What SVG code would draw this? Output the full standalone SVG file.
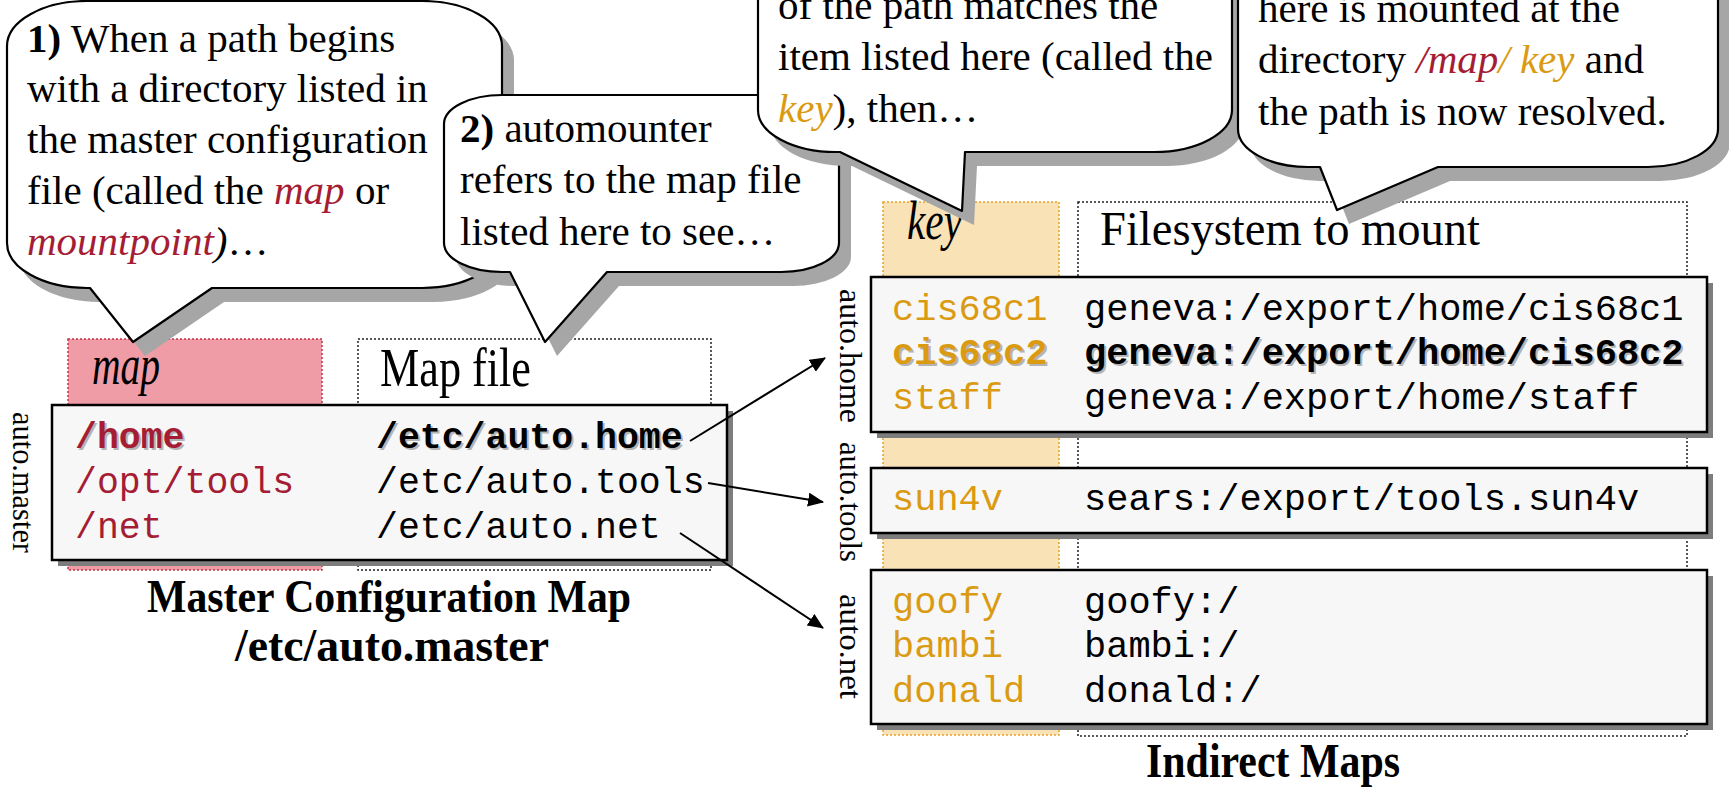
<svg xmlns="http://www.w3.org/2000/svg" width="1729" height="793" viewBox="0 0 1729 793">
  <defs>
    <style>
      .serif { font-family: 'Liberation Serif', 'Times New Roman', serif; fill: #000; }
      .mono { font-family: 'Liberation Mono', 'Courier New', monospace; font-size: 37px; }
      .callout-text { font-size: 41px; }
      .bubble { fill: #fff; stroke: #000; stroke-width: 2.2; stroke-linejoin: round; }
      .bubble-shadow { fill: #a6a6a6; }
      .table { fill: #f7f7f7; stroke: #000; stroke-width: 2.5; }
      .table-shadow { fill: #7d7d7d; }
      .head-map { fill: #f09ca6; stroke: #c2334a; stroke-width: 1.5; stroke-dasharray: 2 2; }
      .head-key { fill: #f8e2b6; stroke: #e3a427; stroke-width: 1.5; stroke-dasharray: 2 2; }
      .head-plain { fill: #fff; stroke: #222; stroke-width: 1.5; stroke-dasharray: 2 2; }
      .red { fill: #a51d34; }
      .gold { fill: #da9b12; }
      .it { font-style: italic; }
      .b { font-weight: bold; }
      .tshadow { fill: #b4b4b4; }
      .title { font-weight: bold; }
      .side { font-size: 32px; }
      .conn { stroke: #000; stroke-width: 2; fill: none; marker-end: url(#arrow); }
    </style>
    <marker id="arrow" viewBox="0 0 16 14" refX="15" refY="7" markerWidth="16" markerHeight="14" markerUnits="userSpaceOnUse" orient="auto">
      <path d="M0,0 L16,7 L0,14 Z" fill="#000"/>
    </marker>
  </defs>

  <rect width="1729" height="793" fill="#fff"/>

  <!-- Master configuration map -->
  <g id="master-map">
    <rect class="head-map" x="68" y="339" width="254" height="231"/>
    <text class="serif it" font-size="56" x="92" y="384" textLength="68" lengthAdjust="spacingAndGlyphs">map</text>
    <rect class="head-plain" x="358" y="339" width="353" height="231"/>
    <text class="serif" font-size="54" x="380" y="386" textLength="151" lengthAdjust="spacingAndGlyphs">Map file</text>
    <rect class="table-shadow" x="58" y="411" width="675" height="155"/>
    <rect class="table" x="52" y="405" width="675" height="155"/>
    <g class="mono" style="font-size:36.5px">
      <text class="tshadow b" x="77" y="450">/home</text>
      <text class="red b" x="75" y="448">/home</text>
      <text class="red" x="75" y="493">/opt/tools</text>
      <text class="red" x="75" y="538">/net</text>
      <text class="tshadow b" x="378" y="450">/etc/auto.home</text>
      <text class="b" x="376" y="448">/etc/auto.home</text>
      <text x="376" y="493">/etc/auto.tools</text>
      <text x="376" y="538">/etc/auto.net</text>
    </g>
    <text class="serif side" transform="translate(13,412) rotate(90)" textLength="141" lengthAdjust="spacingAndGlyphs">auto.master</text>
    <text class="serif title" font-size="47" x="147" y="612" textLength="484" lengthAdjust="spacingAndGlyphs">Master Configuration Map</text>
    <text class="serif title" font-size="47" x="235" y="661" textLength="314" lengthAdjust="spacingAndGlyphs">/etc/auto.master</text>
  </g>

  <!-- Indirect maps -->
  <g id="indirect-maps">
    <rect class="head-key" x="883" y="202" width="176" height="533"/>
    <text class="serif it" font-size="54" x="907" y="239" textLength="55" lengthAdjust="spacingAndGlyphs">key</text>
    <rect class="head-plain" x="1078" y="202" width="609" height="534"/>
    <text class="serif" font-size="49" x="1100" y="245" textLength="380" lengthAdjust="spacingAndGlyphs">Filesystem to mount</text>
    <text class="serif title" font-size="48" x="1146" y="777" textLength="254" lengthAdjust="spacingAndGlyphs">Indirect Maps</text>
  </g>

  <g id="auto-home">
    <rect class="table-shadow" x="877" y="283" width="836" height="155"/>
    <rect class="table" x="871" y="277" width="836" height="155"/>
    <g class="mono">
      <text class="gold" x="892" y="320">cis68c1</text>
      <text x="1084" y="320">geneva:/export/home/cis68c1</text>
      <text class="tshadow b" x="894" y="366">cis68c2</text>
      <text class="gold b" x="892" y="364">cis68c2</text>
      <text class="tshadow b" x="1086" y="366">geneva:/export/home/cis68c2</text>
      <text class="b" x="1084" y="364">geneva:/export/home/cis68c2</text>
      <text class="gold" x="892" y="409">staff</text>
      <text x="1084" y="409">geneva:/export/home/staff</text>
    </g>
    <text class="serif side" transform="translate(840,289) rotate(90)" textLength="134" lengthAdjust="spacingAndGlyphs">auto.home</text>
  </g>

  <g id="auto-tools">
    <rect class="table-shadow" x="877" y="474" width="836" height="65"/>
    <rect class="table" x="871" y="468" width="836" height="65"/>
    <g class="mono">
      <text class="gold" x="892" y="510">sun4v</text>
      <text x="1084" y="510">sears:/export/tools.sun4v</text>
    </g>
    <text class="serif side" transform="translate(840,442) rotate(90)" textLength="120" lengthAdjust="spacingAndGlyphs">auto.tools</text>
  </g>

  <g id="auto-net">
    <rect class="table-shadow" x="877" y="576" width="836" height="154"/>
    <rect class="table" x="871" y="570" width="836" height="154"/>
    <g class="mono">
      <text class="gold" x="892" y="613">goofy</text>
      <text x="1084" y="613">goofy:/</text>
      <text class="gold" x="892" y="657">bambi</text>
      <text x="1084" y="657">bambi:/</text>
      <text class="gold" x="892" y="702">donald</text>
      <text x="1084" y="702">donald:/</text>
    </g>
    <text class="serif side" transform="translate(840,594) rotate(90)" textLength="105" lengthAdjust="spacingAndGlyphs">auto.net</text>
  </g>

  <!-- Connectors from the master map entries to their map files -->
  <g id="connectors">
    <line class="conn" x1="690" y1="441" x2="825" y2="358"/>
    <line class="conn" x1="708" y1="483" x2="823" y2="502"/>
    <line class="conn" x1="680" y1="533" x2="823" y2="628"/>
  </g>

  <!-- Speech bubbles -->
  <g id="callout-1">
    <path class="bubble-shadow" transform="translate(12,14)" d="M87,1 H422 A80 45 0 0 1 502,46 V243 A80 45 0 0 1 422,288 H212 L133,342 L90,288 H87 A80 45 0 0 1 7,243 V46 A80 45 0 0 1 87,1 Z"/>
    <path class="bubble" d="M87,1 H422 A80 45 0 0 1 502,46 V243 A80 45 0 0 1 422,288 H212 L133,342 L90,288 H87 A80 45 0 0 1 7,243 V46 A80 45 0 0 1 87,1 Z"/>
    <g class="serif callout-text">
      <text x="27" y="52"><tspan class="b">1)</tspan> When a path begins</text>
      <text x="27" y="102">with a directory listed in</text>
      <text x="27" y="153">the master configuration</text>
      <text x="27" y="204">file (called the <tspan class="it red">map</tspan> or</text>
      <text x="27" y="255"><tspan class="it red">mountpoint</tspan><tspan class="it">)</tspan>…</text>
    </g>
  </g>

  <g id="callout-2">
    <path class="bubble-shadow" transform="translate(12,14)" d="M502,95 H781 A58 29 0 0 1 839,124 V243 A58 29 0 0 1 781,272 H607 L545,342 L510,272 H502 A58 29 0 0 1 444,243 V124 A58 29 0 0 1 502,95 Z"/>
    <path class="bubble" d="M502,95 H781 A58 29 0 0 1 839,124 V243 A58 29 0 0 1 781,272 H607 L545,342 L510,272 H502 A58 29 0 0 1 444,243 V124 A58 29 0 0 1 502,95 Z"/>
    <g class="serif callout-text">
      <text x="460" y="142"><tspan class="b">2)</tspan> automounter</text>
      <text x="460" y="193">refers to the map file</text>
      <text x="460" y="245">listed here to see…</text>
    </g>
  </g>

  <g id="callout-3">
    <path class="bubble-shadow" transform="translate(12,14)" d="M836,-90 H1154 A78 42 0 0 1 1232,-48 V110 A78 42 0 0 1 1154,152 H965 L962,211 L840,152 H836 A78 42 0 0 1 758,110 V-48 A78 42 0 0 1 836,-90 Z"/>
    <path class="bubble" d="M836,-90 H1154 A78 42 0 0 1 1232,-48 V110 A78 42 0 0 1 1154,152 H965 L962,211 L840,152 H836 A78 42 0 0 1 758,110 V-48 A78 42 0 0 1 836,-90 Z"/>
    <g class="serif callout-text">
      <text x="778" y="19">of the path matches the</text>
      <text x="778" y="70">item listed here (called the</text>
      <text x="778" y="122"><tspan class="it gold">key</tspan>), then…</text>
    </g>
  </g>

  <g id="callout-4">
    <path class="bubble-shadow" transform="translate(12,14)" d="M1308,-90 H1648 A70 38 0 0 1 1718,-52 V129 A70 38 0 0 1 1648,167 H1438 L1337,210 L1320,167 H1308 A70 38 0 0 1 1238,129 V-52 A70 38 0 0 1 1308,-90 Z"/>
    <path class="bubble" d="M1308,-90 H1648 A70 38 0 0 1 1718,-52 V129 A70 38 0 0 1 1648,167 H1438 L1337,210 L1320,167 H1308 A70 38 0 0 1 1238,129 V-52 A70 38 0 0 1 1308,-90 Z"/>
    <g class="serif callout-text">
      <text x="1258" y="22">here is mounted at the</text>
      <text x="1258" y="73">directory <tspan class="it red">/map</tspan><tspan class="it gold">/ key</tspan> and</text>
      <text x="1258" y="125">the path is now resolved.</text>
    </g>
  </g>
</svg>
